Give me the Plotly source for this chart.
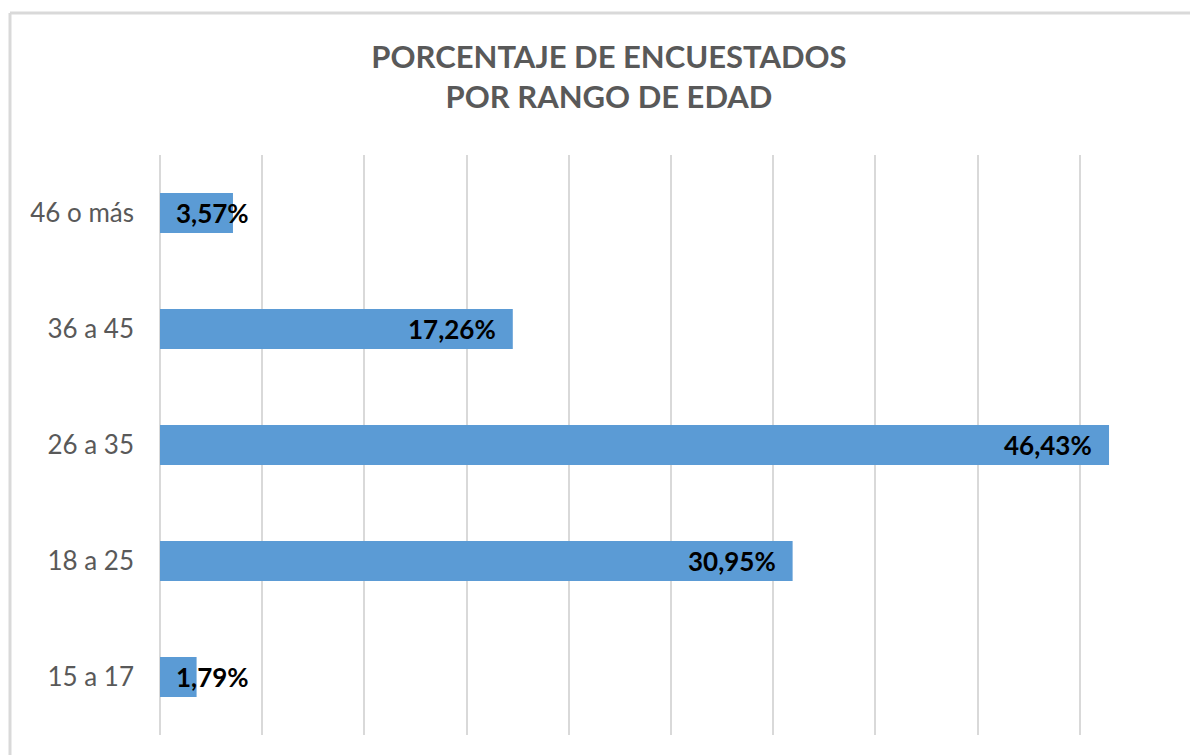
import plotly.graph_objects as go

categories = ["15 a 17", "18 a 25", "26 a 35", "36 a 45", "46 o más"]
values = [1.79, 30.95, 46.43, 17.26, 3.57]
labels = ["1,79%", "30,95%", "46,43%", "17,26%", "3,57%"]

FONT = "Lato, Open Sans, sans-serif"

fig = go.Figure()
fig.add_trace(go.Bar(
    x=values, y=categories, orientation="h",
    marker=dict(color="#5b9bd5", line=dict(width=0)),
    hoverinfo="skip",
))

for cat, v, lab in zip(categories, values, labels):
    if v < 8:
        fig.add_annotation(x=0, y=cat, text=f"<b>{lab}</b>", showarrow=False,
                           xanchor="left", xshift=14,
                           font=dict(family=FONT, size=26, color="#000000"))
    else:
        fig.add_annotation(x=v, y=cat, text=f"<b>{lab}</b>", showarrow=False,
                           xanchor="right", xshift=-15,
                           font=dict(family=FONT, size=26, color="#000000"))

# page body has an 8px margin; figure placed at (8, 8)
W, H = 1190, 747
ml, mr, mt, mb = 152, 16, 147, 20
pw = W - ml - mr
ph = H - mt - mb

# chart border (top and left visible)
bx = (10 - 8 - ml) / pw
by = 1 + (mt - (13 - 8)) / ph
fig.add_shape(type="line", xref="paper", yref="paper", x0=bx, x1=bx, y0=-0.2, y1=by,
              line=dict(color="#d9d9d9", width=3))
fig.add_shape(type="line", xref="paper", yref="paper", x0=bx, x1=1.2, y0=by, y1=by,
              line=dict(color="#d9d9d9", width=3))

fig.update_layout(
    width=W, height=H,
    margin=dict(l=ml, r=mr, t=mt, b=mb),
    paper_bgcolor="white", plot_bgcolor="white",
    bargap=0.655,
    showlegend=False,
    title=dict(
        text="<b>PORCENTAJE DE ENCUESTADOS<br>POR RANGO DE EDAD</b>",
        x=(609 - 8) / W, xanchor="center", xref="container",
        y=1 - 60 / H, yanchor="top", yref="container",
        font=dict(family=FONT, size=31, color="#595959"),
    ),
    xaxis=dict(range=[0, 50], dtick=5, showticklabels=False, showgrid=True,
               gridcolor="#d9d9d9", gridwidth=2, zeroline=True, zerolinecolor="#d9d9d9",
               zerolinewidth=2, showline=False, fixedrange=True),
    yaxis=dict(categoryorder="array", categoryarray=categories, showgrid=False,
               showline=False, ticks="", ticklabelstandoff=25,
               tickfont=dict(family=FONT, size=26, color="#595959")),
)

fig.write_html("out.html")
